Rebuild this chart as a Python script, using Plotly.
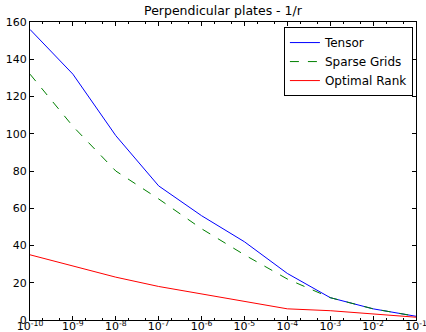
import plotly.graph_objects as go

tol = [1e-10, 1e-9, 1e-8, 1e-7, 1e-6, 1e-5, 1e-4, 1e-3, 1e-2, 1e-1]
tensor = [156, 132, 99, 72, 56, 42, 25, 12, 6, 2]
sparse = [132, 104, 80, 65, 49, 35, 22, 12, 6, 2]
optimal = [35, 29, 23, 18, 14, 10, 6, 5, 3.3, 1.5]

xtick_vals = tol
xtick_text = ["10<sup>%d</sup>" % e for e in range(-10, 0)]
ytick_vals = [0, 20, 40, 60, 80, 100, 120, 140, 160]

font = "DejaVu Sans"

fig = go.Figure()
fig.add_trace(go.Scatter(x=tol, y=tensor, mode="lines", name="Tensor",
                         line=dict(color="#0000ff", width=1)))
fig.add_trace(go.Scatter(x=tol, y=sparse, mode="lines", name="Sparse Grids",
                         line=dict(color="#008000", width=1, dash="dash")))
fig.add_trace(go.Scatter(x=tol, y=optimal, mode="lines", name="Optimal Rank",
                         line=dict(color="#ff0000", width=1)))

fig.update_layout(
    width=426, height=332,
    margin=dict(l=30, r=10, t=22, b=12, autoexpand=False),
    paper_bgcolor="white", plot_bgcolor="white",
    font=dict(family=font, size=11, color="black"),
    title=dict(text="Perpendicular plates - 1/r", x=0.5, xref="paper",
               y=1 - 11 / 332, yanchor="middle", font=dict(size=12.5)),
    showlegend=True,
    legend=dict(x=0.992, y=0.983, xanchor="right", yanchor="top",
                bordercolor="black", borderwidth=1, bgcolor="white",
                font=dict(size=12), tracegroupgap=0, itemwidth=30),
)
fig.update_xaxes(type="log", range=[-10, -1], tickvals=xtick_vals, ticktext=xtick_text,
                 ticks="inside", ticklen=4, tickcolor="black", showline=True,
                 linecolor="black", linewidth=1, mirror="allticks", showgrid=False,
                 zeroline=False, automargin=False, ticklabeloverflow="allow",
                 ticklabelstandoff=-4, tickfont=dict(size=11),
                 minor=dict(ticks="inside", ticklen=2, tickcolor="black", showgrid=False))
fig.update_yaxes(range=[0, 160], tickvals=ytick_vals, ticks="inside", ticklen=4,
                 tickcolor="black", showline=True, linecolor="black", linewidth=1,
                 mirror="allticks", showgrid=False, zeroline=False, automargin=False)

fig.write_html("out.html")
